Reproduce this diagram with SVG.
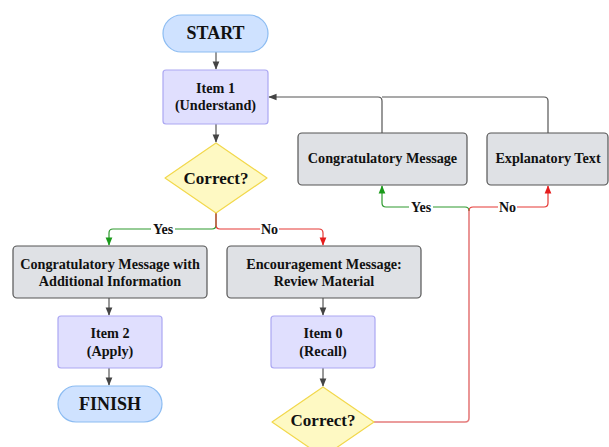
<svg xmlns="http://www.w3.org/2000/svg" width="609" height="447" viewBox="0 0 609 447">
<style>
text{font-family:"Liberation Serif","Times New Roman",serif;font-weight:bold;fill:#111;text-anchor:middle;dominant-baseline:central}
.t{font-size:14.2px}
.big{font-size:18px}
.dia{font-size:17px}
.lbl{font-size:14px}
.term{fill:#cfe2ff;stroke:#8cbcf2;stroke-width:1.2}
.item{fill:#e0dffe;stroke:#aba7f2;stroke-width:1.2}
.msg{fill:#dfe1e5;stroke:#555;stroke-width:1.2}
.dec{fill:#fef9c3;stroke:#f2d84c;stroke-width:1.2}
.c{fill:none;stroke-width:1.2}
.k{stroke:#555}
.g{stroke:#2e9a2e}
.r{stroke:#e53935}
.lr{stroke:#e57c7c;stroke-width:1.6}
</style>
<defs>
<marker id="ak" viewBox="0 0 10 10" refX="9" refY="5" markerWidth="7" markerHeight="7" orient="auto"><path d="M0,1 L10,5 L0,9 z" fill="#444"/></marker>
<marker id="ag" viewBox="0 0 10 10" refX="9" refY="5" markerWidth="7" markerHeight="7" orient="auto"><path d="M0,1 L10,5 L0,9 z" fill="#1a9a1a"/></marker>
<marker id="ar" viewBox="0 0 10 10" refX="9" refY="5" markerWidth="7" markerHeight="7" orient="auto"><path d="M0,1 L10,5 L0,9 z" fill="#e51c1c"/></marker>
</defs>
<rect width="609" height="447" fill="#fff"/>
<g id="connectors">
<path class="c k" d="M216,52 V69" marker-end="url(#ak)"/>
<path class="c k" d="M216,124 V142" marker-end="url(#ak)"/>
<path class="c g" d="M216,213 V225 Q216,229 212,229 H113 Q109,229 109,233 V245" marker-end="url(#ag)"/>
<path class="c r" d="M216,213 V225 Q216,229 220,229 H319 Q323,229 323,233 V245" marker-end="url(#ar)"/>
<path class="c k" d="M109,298 V315" marker-end="url(#ak)"/>
<path class="c k" d="M109,368 V385" marker-end="url(#ak)"/>
<path class="c k" d="M323,298 V315" marker-end="url(#ak)"/>
<path class="c k" d="M323,368 V386" marker-end="url(#ak)"/>
<path class="c lr" d="M374,422 H465 Q469,422 469,418 V211"/>
<path class="c g" d="M469,211 Q469,207 465,207 H386 Q382,207 382,203 V186" marker-end="url(#ag)"/>
<path class="c r" d="M469,211 Q469,207 473,207 H544 Q548,207 548,203 V186" marker-end="url(#ar)"/>
<path class="c k" d="M382,133 V101 Q382,97 378,97 H269" marker-end="url(#ak)"/>
<path class="c k" d="M548,133 V101 Q548,97 544,97 H382"/>
<rect x="151" y="222" width="24" height="14" fill="#fff"/>
<text class="lbl" x="163" y="229">Yes</text>
<rect x="260" y="222" width="19" height="14" fill="#fff"/>
<text class="lbl" x="269.5" y="229">No</text>
<rect x="409" y="200" width="24" height="14" fill="#fff"/>
<text class="lbl" x="421" y="207">Yes</text>
<rect x="498" y="200" width="19" height="14" fill="#fff"/>
<text class="lbl" x="507.5" y="207">No</text>
</g>
<g id="start"><rect class="term" x="163" y="15" width="105" height="37" rx="18.5"/><text class="big" x="215.5" y="33">START</text></g>
<g id="item1"><rect class="item" x="163" y="70" width="105" height="54" rx="3"/><text class="t" x="215.5" y="88">Item 1</text><text class="t" x="215.5" y="105">(Understand)</text></g>
<g id="correct1"><path class="dec" d="M216,143 L267,178 L216,213 L165,178 Z" stroke-linejoin="round"/><text class="dia" x="216" y="178">Correct?</text></g>
<g id="congratsInfo"><rect class="msg" x="13" y="246" width="194" height="52" rx="4"/><text class="t" x="110" y="264">Congratulatory Message with</text><text class="t" x="110" y="281">Additional Information</text></g>
<g id="item2"><rect class="item" x="58" y="316" width="104" height="52" rx="3"/><text class="t" x="110" y="333">Item 2</text><text class="t" x="110" y="351">(Apply)</text></g>
<g id="finish"><rect class="term" x="58" y="386" width="104" height="36" rx="18"/><text class="big" x="110" y="404">FINISH</text></g>
<g id="encourage"><rect class="msg" x="227" y="246" width="194" height="52" rx="4"/><text class="t" x="324" y="264">Encouragement Message:</text><text class="t" x="324" y="281">Review Material</text></g>
<g id="item0"><rect class="item" x="271" y="316" width="104" height="52" rx="3"/><text class="t" x="323" y="333">Item 0</text><text class="t" x="323" y="351">(Recall)</text></g>
<g id="correct2"><path class="dec" d="M323,387 L374,422 L323,457 L272,422 Z" stroke-linejoin="round"/><text class="dia" x="323" y="420">Correct?</text></g>
<g id="congrats"><rect class="msg" x="298" y="133" width="169" height="52" rx="4"/><text class="t" x="382.5" y="158">Congratulatory Message</text></g>
<g id="explain"><rect class="msg" x="487" y="133" width="121" height="52" rx="4"/><text class="t" x="548" y="158">Explanatory Text</text></g>
</svg>
